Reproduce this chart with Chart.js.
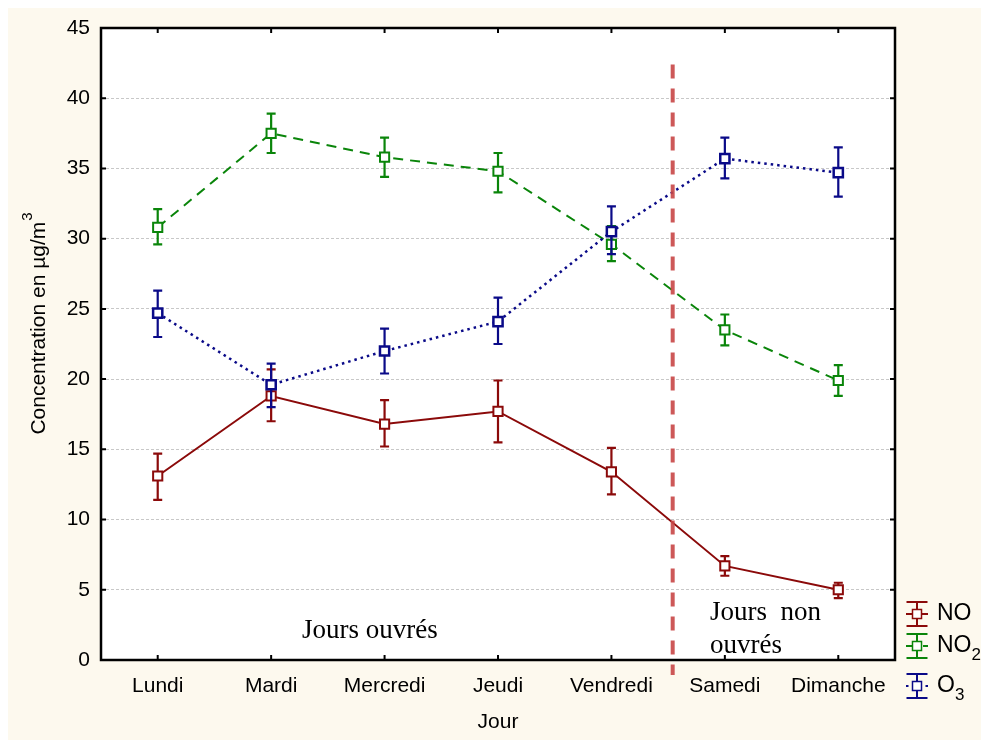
<!DOCTYPE html>
<html>
<head>
<meta charset="utf-8">
<script src="https://cdn.jsdelivr.net/npm/chart.js@4/dist/chart.umd.min.js"></script>
<style>
  html, body { margin: 0; padding: 0; background: #fff; }
  canvas { display: block; }
</style>
</head>
<body>
<canvas id="concChart" width="981" height="740"></canvas>
<script>
(function () {
    "use strict";

    var days = ["Lundi", "Mardi", "Mercredi", "Jeudi", "Vendredi", "Samedi", "Dimanche"];
    var yTicks = [0, 5, 10, 15, 20, 25, 30, 35, 40, 45];

    // NO
    var no = [13.1, 18.8, 16.8, 17.7, 13.4, 6.7, 5.0];
    var noLo = [11.4, 17.0, 15.2, 15.5, 11.8, 6.0, 4.4];
    var noHi = [14.7, 20.7, 18.5, 19.9, 15.1, 7.4, 5.5];

    // NO2
    var no2 = [30.8, 37.5, 35.8, 34.8, 29.6, 23.5, 19.9];
    var no2Lo = [29.6, 36.1, 34.4, 33.3, 28.4, 22.4, 18.8];
    var no2Hi = [32.1, 38.9, 37.2, 36.1, 30.9, 24.6, 21.0];

    // O3
    var o3 = [24.7, 19.6, 22.0, 24.1, 30.5, 35.7, 34.7];
    var o3Lo = [23.0, 18.0, 20.4, 22.5, 28.9, 34.3, 33.0];
    var o3Hi = [26.3, 21.1, 23.6, 25.8, 32.3, 37.2, 36.5];

    var cream = "#fdf9ee";
    var sans = "'Liberation Sans', Arial, sans-serif";
    var serif = "'Liberation Serif', 'Times New Roman', serif";

    Chart.defaults.font.family = sans;
    Chart.defaults.color = "#000";

    // error bars, drawn under each dataset's line and markers
    var errorBars = {
        id: "errorBars",
        beforeDatasetDraw: function (chart, args) {
            var ds = chart.data.datasets[args.index];
            if (!ds.errLo) return;
            var y = chart.scales.y;
            var ctx = chart.ctx;
            ctx.save();
            ctx.strokeStyle = ds.borderColor;
            ctx.lineWidth = 2.2;
            ctx.setLineDash([]);
            args.meta.data.forEach(function (pt, i) {
                var top = y.getPixelForValue(ds.errHi[i]);
                var bot = y.getPixelForValue(ds.errLo[i]);
                ctx.beginPath();
                ctx.moveTo(pt.x, top);
                ctx.lineTo(pt.x, bot);
                ctx.moveTo(pt.x - 4.5, top);
                ctx.lineTo(pt.x + 4.5, top);
                ctx.moveTo(pt.x - 4.5, bot);
                ctx.lineTo(pt.x + 4.5, bot);
                ctx.stroke();
            });
            ctx.restore();
        }
    };

    var decor = {
        id: "decor",
        beforeDraw: function (chart) {
            var ctx = chart.ctx, a = chart.chartArea;
            ctx.save();
            ctx.fillStyle = "#fff";
            ctx.fillRect(0, 0, chart.width, chart.height);
            ctx.fillStyle = cream;
            ctx.fillRect(8, 8, chart.width - 8, chart.height - 8);
            ctx.fillStyle = "#fff";
            ctx.fillRect(a.left, a.top, a.right - a.left, a.bottom - a.top);
            ctx.restore();
        },
        afterDatasetsDraw: function (chart) {
            // weekday / weekend separator
            var ctx = chart.ctx, a = chart.chartArea;
            var xs = chart.scales.x.getPixelForValue(4.54);
            ctx.save();
            ctx.strokeStyle = "rgba(200, 70, 70, 0.9)";
            ctx.lineWidth = 4;
            ctx.setLineDash([14, 10]);
            ctx.beginPath();
            ctx.moveTo(xs, chart.scales.y.getPixelForValue(42.4));
            ctx.lineTo(xs, a.bottom + 15);
            ctx.stroke();
            ctx.restore();
        },
        afterDraw: function (chart) {
            var ctx = chart.ctx, a = chart.chartArea;
            var xs = chart.scales.x, ys = chart.scales.y;
            ctx.save();

            // frame + inward ticks
            ctx.strokeStyle = "#000";
            ctx.lineWidth = 2.5;
            ctx.strokeRect(a.left, a.top, a.right - a.left, a.bottom - a.top);
            ctx.lineWidth = 2;
            ctx.beginPath();
            days.forEach(function (d, i) {
                var px = xs.getPixelForValue(i);
                ctx.moveTo(px, a.bottom);
                ctx.lineTo(px, a.bottom - 5);
                ctx.moveTo(px, a.top);
                ctx.lineTo(px, a.top + 5);
            });
            yTicks.forEach(function (v) {
                var py = ys.getPixelForValue(v);
                ctx.moveTo(a.left, py);
                ctx.lineTo(a.left + 5, py);
                ctx.moveTo(a.right, py);
                ctx.lineTo(a.right - 5, py);
            });
            ctx.stroke();

            // y axis title with superscript
            ctx.fillStyle = "#000";
            ctx.translate(39, 324);
            ctx.rotate(-Math.PI / 2);
            ctx.textBaseline = "middle";
            ctx.textAlign = "left";
            ctx.font = "21px " + sans;
            var main = "Concentration en µg/m";
            var w1 = ctx.measureText(main).width;
            ctx.font = "15px " + sans;
            var w2 = ctx.measureText("3").width;
            var x0 = -(w1 + w2) / 2;
            ctx.font = "21px " + sans;
            ctx.fillText(main, x0, 0);
            ctx.font = "15px " + sans;
            ctx.fillText("3", x0 + w1 + 1, -11);
            ctx.setTransform(1, 0, 0, 1, 0, 0);

            // annotations
            ctx.font = "27px " + serif;
            ctx.textBaseline = "alphabetic";
            ctx.fillText("Jours ouvrés", 302, 638);
            ctx.fillText("Jours  non", 710, 620);
            ctx.fillText("ouvrés", 710, 653);

            // legend
            var rows = [
                { ds: chart.data.datasets[0], cy: 614, name: "NO", sub: "" },
                { ds: chart.data.datasets[1], cy: 646, name: "NO", sub: "2" },
                { ds: chart.data.datasets[2], cy: 686, name: "O", sub: "3" }
            ];
            rows.forEach(function (r) {
                var cx = 917;
                ctx.strokeStyle = r.ds.borderColor;
                ctx.lineWidth = 2;
                ctx.setLineDash(r.ds.borderDash || []);
                ctx.beginPath();
                ctx.moveTo(cx - 11, r.cy);
                ctx.lineTo(cx + 11, r.cy);
                ctx.stroke();
                ctx.setLineDash([]);
                ctx.beginPath();
                ctx.moveTo(cx, r.cy - 12);
                ctx.lineTo(cx, r.cy + 12);
                ctx.moveTo(cx - 10.5, r.cy - 12);
                ctx.lineTo(cx + 10.5, r.cy - 12);
                ctx.moveTo(cx - 10.5, r.cy + 12);
                ctx.lineTo(cx + 10.5, r.cy + 12);
                ctx.stroke();
                ctx.fillStyle = "#fff";
                ctx.lineWidth = 1.5;
                ctx.fillRect(cx - 4.5, r.cy - 4.5, 9, 9);
                ctx.strokeRect(cx - 4.5, r.cy - 4.5, 9, 9);

                ctx.fillStyle = "#000";
                ctx.textBaseline = "middle";
                ctx.font = "23px " + sans;
                ctx.fillText(r.name, 937, r.cy);
                if (r.sub) {
                    var wn = ctx.measureText(r.name).width;
                    ctx.font = "17px " + sans;
                    ctx.fillText(r.sub, 937 + wn, r.cy + 9);
                }
            });
            ctx.restore();
        }
    };

    var ctx = document.getElementById("concChart");
    var myChart = new Chart(ctx, {
        type: "line",
        data: {
            labels: days,
            datasets: [
                {
                    label: "NO",
                    data: no,
                    errLo: noLo,
                    errHi: noHi,
                    borderColor: "#8b0a0a",
                    borderWidth: 2,
                    order: 3
                },
                {
                    label: "NO2",
                    data: no2,
                    errLo: no2Lo,
                    errHi: no2Hi,
                    borderColor: "#0a850a",
                    borderWidth: 2,
                    borderDash: [10, 7],
                    order: 2
                },
                {
                    label: "O3",
                    data: o3,
                    errLo: o3Lo,
                    errHi: o3Hi,
                    borderColor: "#0a0a88",
                    borderWidth: 2.5,
                    borderDash: [2.5, 4],
                    order: 1
                }
            ]
        },
        options: {
            responsive: false,
            animation: false,
            layout: {
                padding: { left: 0, top: 28, right: 86, bottom: 0 }
            },
            elements: {
                line: { tension: 0, fill: false },
                point: {
                    pointStyle: "rect",
                    radius: 6.5,
                    hoverRadius: 6.5,
                    backgroundColor: "#fff",
                    borderWidth: 1.3
                }
            },
            plugins: {
                legend: { display: false },
                tooltip: { enabled: false }
            },
            scales: {
                x: {
                    type: "category",
                    offset: true,
                    grid: { display: false },
                    border: { display: false },
                    ticks: {
                        font: { size: 21 },
                        padding: 6,
                        maxRotation: 0,
                        autoSkip: false
                    },
                    title: {
                        display: true,
                        text: "Jour",
                        font: { size: 21 },
                        padding: { top: 0, bottom: 5 }
                    },
                    afterFit: function (scale) { scale.height = 80; }
                },
                y: {
                    min: 0,
                    max: 45,
                    ticks: {
                        stepSize: 5,
                        font: { size: 21 },
                        padding: 11
                    },
                    grid: {
                        color: "#c8c8c8",
                        lineWidth: 1,
                        drawTicks: false
                    },
                    border: { display: false, dash: [3, 2] },
                    afterFit: function (scale) { scale.width = 101; }
                }
            }
        },
        plugins: [errorBars, decor]
    });

})();
</script>
</body>
</html>
